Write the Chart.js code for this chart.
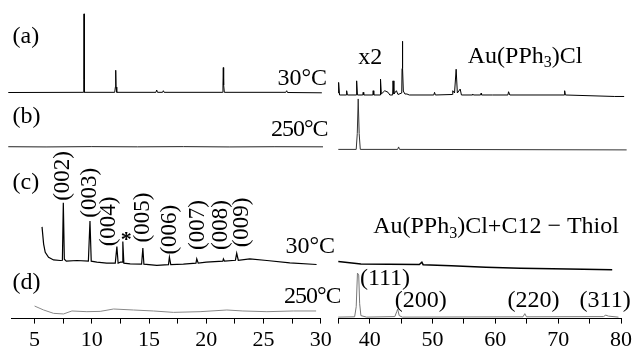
<!DOCTYPE html>
<html>
<head>
<meta charset="utf-8">
<script src="https://cdn.jsdelivr.net/npm/chart.js@4.4.1/dist/chart.umd.min.js"></script>
<style>
  html, body { margin: 0; padding: 0; background: #fff; }
  #wrap { position: relative; width: 635px; height: 353px; overflow: hidden; }
  #leftBox { position: absolute; left: 0; top: 0; width: 340px; height: 356px; }
  #rightBox { position: absolute; left: 325px; top: 0; width: 310px; height: 356px; }
  #probe { position: absolute; left: -999px; top: 0; font-family: "Liberation Serif"; font-size: 20px; }
</style>
</head>
<body>
<div id="probe">30 (a) Au</div>
<div id="wrap">
  <div id="leftBox"><canvas id="leftChart"></canvas></div>
  <div id="rightBox"><canvas id="rightChart"></canvas></div>
</div>
<script>
// 2-theta (deg) and intensity (a.u., baseline of each trace near 0)

// (a) Au(PPh3)Cl, 30 C
const aLeftX = [2.7, 9.27, 9.3, 9.32, 9.34, 9.37, 12.0, 12.06, 12.09, 12.12, 12.18, 15.6, 15.67, 15.74, 16.18, 16.25, 16.32, 21.4, 21.46, 21.49, 21.52, 21.58, 26.95, 27.03, 27.1, 30.1];
const aLeftY = [6.5, 6.7, 20, 86, 20, 6.7, 6.7, 12, 29, 12, 6.7, 6.7, 9, 6.7, 6.7, 8.3, 6.7, 6.7, 14, 31.7, 14, 6.7, 6.7, 8.3, 6.5, 6.2];
const aRightX = [35.0, 35.05, 35.2, 36.25, 36.33, 36.45, 37.85, 37.92, 38.05, 38.9, 38.96, 39.05, 40.5, 40.55, 40.65, 41.65, 41.72, 41.85, 42.4, 42.92, 43.2, 43.65, 43.71, 43.85, 44.25, 44.5, 45.1, 45.15, 45.2, 45.26, 45.35, 45.6, 45.93, 46.3, 50.2, 50.32, 50.45, 53.15, 53.22, 53.5, 53.76, 53.95, 54.4, 54.6, 56.3, 56.39, 56.5, 57.65, 57.72, 57.8, 59.56, 62.0, 62.1, 62.3, 70.95, 71.03, 71.15, 79.0, 80.5, 80.59, 80.7, 81.1];
const aRightY = [6, 16.7, 4, 4, 8.3, 4, 4, 18.3, 4, 4, 6.7, 4, 4, 8.3, 4, 4, 20, 5, 8.3, 6.7, 4, 4, 18.3, 5, 8.3, 4.5, 6, 30.7, 58.3, 30.7, 8, 5, 5, 4, 4, 6.7, 4, 4.5, 8.3, 6, 30, 6, 10, 4, 4, 5, 4, 4, 5.7, 4, 4, 4, 7.3, 4, 4, 8.3, 4, 2.5, 2.5, 12.3, 2.5, 0.7];

// (b) Au(PPh3)Cl, 250 C
const bLeftX = [2.7, 6, 10, 14, 18, 22, 26, 30.2];
const bLeftY = [6.7, 6.5, 6.8, 6.6, 6.8, 6.5, 6.7, 6.6];
const bRightX = [35.0, 37.85, 38.02, 38.17, 38.32, 38.5, 44.45, 44.6, 44.75, 80.9];
const bRightY = [4, 4, 20, 55, 20, 4, 4, 6.5, 4, 3.5];

// (c) Au(PPh3)Cl + C12-thiol, 30 C
const cLeftX = [5.65, 5.79, 5.93, 6.22, 6.66, 7.24, 7.43, 7.51, 7.6, 7.77, 8.7, 9.7, 9.84, 9.95, 10.44, 11.3, 12.05, 12.19, 12.3, 12.5, 12.65, 12.71, 12.8, 13.35, 14.35, 14.46, 14.55, 15.68, 16.7, 16.78, 16.9, 18.0, 19.1, 19.17, 19.3, 20.0, 21.45, 21.5, 21.6, 22.55, 22.66, 22.8, 23.8, 25.3, 27.3, 29.64];
const cLeftY = [45.7, 28.3, 20, 15, 12.3, 11.7, 12, 70, 13, 11, 11.7, 11, 51.7, 11, 10, 9, 9, 25.7, 9, 10, 10, 31, 9, 8.3, 8, 24.3, 8, 6.7, 7.5, 15, 7.5, 8, 9, 13.3, 9, 10, 11, 13.3, 11, 12, 19, 12, 13.3, 11.7, 9.3, 7.7];
const cRightX = [35.0, 38.6, 43.0, 47.9, 48.3, 48.5, 53.0, 58.5, 64.0, 69.1, 74.0, 78.6];
const cRightY = [10.7, 8.3, 8.0, 7.7, 10.0, 7.5, 6.3, 5.0, 4.0, 3.3, 2.8, 2.3];

// (d) Au(PPh3)Cl + C12-thiol, 250 C
const dLeftX = [5.0, 5.79, 6.66, 7.53, 8.26, 9.57, 10.73, 11.9, 13.64, 15.38, 17.13, 19.46, 21.8, 23.2, 25.3, 27.6, 29.6];
const dLeftY = [12.7, 8.7, 5.3, 4.7, 7.7, 7, 7.3, 9.7, 8.7, 7.7, 6.3, 7, 8.7, 7.7, 7, 7.7, 7.7];
const dRightX = [35.0, 37.6, 37.85, 38.05, 38.25, 38.4, 38.6, 39.5, 44.0, 44.3, 44.45, 44.7, 45.2, 64.4, 64.69, 64.95, 77.2, 77.58, 78.0, 79.6];
const dRightY = [1.5, 1.8, 12, 46, 44, 15, 3, 1.5, 2, 7, 9.5, 3, 1.5, 1.8, 5, 1.8, 2, 3.5, 2.5, 1.5];

// texts
const panelTags = ['(a)', '(b)', '(c)', '(d)'];
const tempTags = ['30°C', '250°C', '30°C', '250°C'];
const hklLeft = ['(002)', '(003)', '(004)', '(005)', '(006)', '(007)', '(008)', '(009)'];
const hklLeftPos = [7.51, 9.84, 11.53, 14.5, 16.84, 19.27, 21.26, 23.15];
const hklRight = ['(111)', '(200)', '(220)', '(311)'];
const hklRightPos = [38.44, 43.98, 61.94, 73.4];

const serif = '"Liberation Serif", "Times New Roman", Times, serif';
const bandIds = ['ya', 'yb', 'yc', 'yd'];
const bandHeights = [100, 55, 120, 47];

function series(xs, ys) {
    return xs.map((x, i) => ({ x: x, y: ys[i] }));
}

function trace(xs, ys, axis, color, width) {
    return {
        data: series(xs, ys),
        yAxisID: axis,
        borderColor: color,
        borderWidth: width,
        pointRadius: 0,
        tension: 0,
        fill: false,
        clip: false
    };
}

function bandScales() {
    const s = {};
    bandIds.forEach((id, i) => {
        s[id] = {
            type: 'linear',
            position: 'right',
            stack: 'bands',
            stackWeight: bandHeights[i],
            min: 0,
            max: bandHeights[i],
            display: false
        };
    });
    return s;
}

// "_3" -> subscript 3
function splitRich(str) {
    const parts = [];
    for (let i = 0; i < str.length; i++) {
        if (str[i] === '_') {
            parts.push({ t: str[i + 1], sub: true });
            i++;
        } else if (parts.length && !parts[parts.length - 1].sub) {
            parts[parts.length - 1].t += str[i];
        } else {
            parts.push({ t: str[i], sub: false });
        }
    }
    return parts;
}

function drawRich(ctx, str, x, y, size, align) {
    const parts = splitRich(str);
    let total = 0;
    parts.forEach(p => {
        ctx.font = (p.sub ? Math.round(size * 0.68) : size) + 'px ' + serif;
        p.w = ctx.measureText(p.t).width;
        total += p.w;
    });
    let cx = align === 'right' ? x - total : (align === 'center' ? x - total / 2 : x);
    ctx.textAlign = 'left';
    parts.forEach(p => {
        ctx.font = (p.sub ? Math.round(size * 0.68) : size) + 'px ' + serif;
        ctx.fillText(p.t, cx, p.sub ? y + size * 0.2 : y);
        cx += p.w;
    });
}

function makeLabels(items) {
    return {
        id: 'panelLabels',
        afterDraw(chart) {
            const ctx = chart.ctx;
            const xs = chart.scales.x;
            ctx.save();
            ctx.fillStyle = '#000';
            items.forEach(it => {
                const px = xs.getPixelForValue(it.x);
                const py = chart.scales[it.axis].getPixelForValue(it.y);
                ctx.letterSpacing = it.tight ? '-1px' : '0px';
                if (it.rotate) {
                    ctx.save();
                    ctx.translate(px, py);
                    ctx.rotate(-Math.PI / 2);
                    ctx.font = (it.size || 23) + 'px ' + serif;
                    ctx.textAlign = 'left';
                    ctx.textBaseline = 'middle';
                    ctx.fillText(it.text, 0, 0);
                    ctx.restore();
                } else {
                    ctx.textBaseline = 'alphabetic';
                    if (it.bold) {
                        ctx.font = 'bold ' + it.size + 'px ' + serif;
                        ctx.textAlign = 'center';
                        ctx.fillText(it.text, px, py);
                    } else {
                        drawRich(ctx, it.text, px, py, it.size || 24, it.align || 'left');
                    }
                }
            });
            ctx.restore();
        }
    };
}

function xAxis(min, max, step, every) {
    return {
        type: 'linear',
        position: 'bottom',
        min: min,
        max: max,
        grid: { drawOnChartArea: false, drawTicks: true, tickLength: 5, color: '#000', lineWidth: 1 },
        border: { color: '#000', width: 1 },
        ticks: {
            stepSize: step,
            includeBounds: false,
            autoSkip: false,
            maxRotation: 0,
            padding: 3,
            color: '#000',
            font: { family: serif, size: 22 },
            callback: v => (Math.abs(v % every) < 1e-6 ? v : '')
        }
    };
}

function makeChart(id, datasets, xScale, padding, labels) {
    const scales = bandScales();
    scales.x = xScale;
    return new Chart(document.getElementById(id).getContext('2d'), {
        type: 'line',
        data: { datasets: datasets },
        options: {
            animation: false,
            responsive: true,
            maintainAspectRatio: false,
            events: [],
            layout: { padding: padding },
            plugins: { legend: { display: false }, tooltip: { enabled: false } },
            scales: scales
        },
        plugins: [makeLabels(labels)]
    });
}

const leftLabels = [
    { text: panelTags[0], x: 3.08, axis: 'ya', y: 56.3 },
    { text: tempTags[0], x: 30.55, axis: 'ya', y: 14, align: 'right' },
    { text: panelTags[1], x: 3.08, axis: 'yb', y: 31 },
    { text: tempTags[1], x: 30.6, axis: 'yb', y: 17.3, align: 'right', tight: true },
    { text: panelTags[2], x: 3.08, axis: 'yc', y: 84 },
    { text: tempTags[2], x: 31.25, axis: 'yc', y: 19, align: 'right' },
    { text: '*', x: 13.0, axis: 'yc', y: 26, bold: true, size: 22 },
    { text: panelTags[3], x: 3.08, axis: 'yd', y: 30 },
    { text: tempTags[3], x: 31.75, axis: 'yd', y: 15.3, align: 'right', tight: true }
];
const hklBottoms = [72, 55, 26, 30, 17.7, 22.3, 22.3, 25];
hklLeft.forEach((t, i) => {
    leftLabels.push({ text: t, x: hklLeftPos[i], axis: 'yc', y: hklBottoms[i], rotate: true });
});

const rightLabels = [
    { text: 'x2', x: 38.17, axis: 'ya', y: 35 },
    { text: 'Au(PPh_3)Cl', x: 55.6, axis: 'ya', y: 36.7 },
    { text: 'Au(PPh_3)Cl+C12 \u2212 Thiol', x: 40.55, axis: 'yc', y: 39.3 },
    { text: hklRight[0], x: hklRightPos[0], axis: 'yd', y: 33.7 },
    { text: hklRight[1], x: hklRightPos[1], axis: 'yd', y: 12 },
    { text: hklRight[2], x: hklRightPos[2], axis: 'yd', y: 12 },
    { text: hklRight[3], x: hklRightPos[3], axis: 'yd', y: 12 }
];

function build() {
    makeChart('leftChart', [
        trace(aLeftX, aLeftY, 'ya', '#000', 1),
        trace(bLeftX, bLeftY, 'yb', '#222', 1),
        trace(cLeftX, cLeftY, 'yc', '#000', 1.2),
        trace(dLeftX, dLeftY, 'yd', '#888', 1)
    ], xAxis(3, 30, 2.5, 5), { left: 11.7, right: 19.3, top: 0, bottom: 0 }, leftLabels);

    makeChart('rightChart', [
        trace(aRightX, aRightY, 'ya', '#000', 1),
        trace(bRightX, bRightY, 'yb', '#333', 1),
        trace(cRightX, cRightY, 'yc', '#000', 1.5),
        trace(dRightX, dRightY, 'yd', '#777', 1)
    ], xAxis(35, 80, 5, 10), { left: 13.3, right: 12.7, top: 0, bottom: 0 }, rightLabels);
}

document.fonts.load('24px "Liberation Serif"').then(build, build);
</script>
</body>
</html>
